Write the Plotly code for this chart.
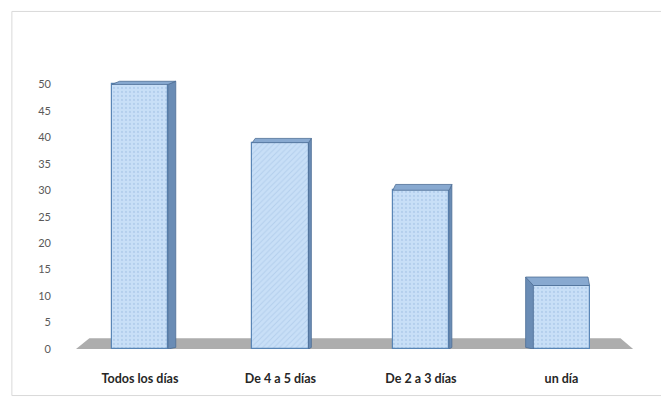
import plotly.graph_objects as go

# ---- data ----
categories = ["Todos los días", "De 4 a 5 días", "De 2 a 3 días", "un día"]
values = [50, 39, 30, 12]
y_ticks = [0, 5, 10, 15, 20, 25, 30, 35, 40, 45, 50]

# ---- style ----
xpos = list(range(len(categories)))
bar_w = 0.40
front_color = "#c8dff7"
edge_color = "#5a86b6"
side_color = "#6a8cb5"
top_color = "#88a9d0"
patterns = [".", "/", ".", "."]
# side depth (x units, sign = which side), top depth (y units)
side_dx = [0.055, 0.02, 0.02, -0.055]
top_dy = [0.6, 0.8, 1.1, 1.6]

fig = go.Figure()

# floor (decorative)
fig.add_shape(type="path",
              path="M -0.455 0 L -0.36 2.05 L 3.42 2.05 L 3.51 0 Z",
              xref="x", yref="y", fillcolor="#adadad", line=dict(width=0),
              layer="below")

# side + top faces derived from the values
for i, v in enumerate(values):
    x0 = xpos[i] - bar_w / 2
    x1 = xpos[i] + bar_w / 2
    dx = side_dx[i]
    dy = top_dy[i]
    edge = x1 if dx > 0 else x0
    sx = [edge, edge + dx, edge + dx, edge, edge]
    sy = [0, 0.3, v + dy, v, 0]
    if dx > 0:
        tx = [x0, x0 + dx, x1 + dx, x1, x0]
    else:
        tx = [x0, x0 + dx, x1 + dx * 0.2, x1, x0]
    ty = [v, v + dy, v + dy, v, v]
    fig.add_trace(go.Scatter(x=sx, y=sy, fill="toself", mode="lines",
                             fillcolor=side_color, line=dict(color="#4e6f96", width=0.8),
                             hoverinfo="skip", showlegend=False))
    fig.add_trace(go.Scatter(x=tx, y=ty, fill="toself", mode="lines",
                             fillcolor=top_color, line=dict(color="#4e6f96", width=0.8),
                             hoverinfo="skip", showlegend=False))

fig.add_trace(go.Bar(
    x=xpos, y=values, width=bar_w,
    marker=dict(color=front_color,
                line=dict(color=edge_color, width=1.2),
                pattern=dict(shape=patterns, fgcolor="#9dbde2", size=4,
                             solidity=0.25, fillmode="overlay")),
    showlegend=False,
))

# outer frame
fig.add_shape(type="rect", xref="paper", yref="paper",
              x0=-0.083, x1=1.038, y0=-0.16, y1=1.16,
              line=dict(color="#d9d9d9", width=1), fillcolor="rgba(0,0,0,0)")

fig.update_layout(
    width=661, height=398,
    margin=dict(l=60, r=21, t=58, b=46),
    paper_bgcolor="white", plot_bgcolor="white",
    font=dict(family="Lato", color="#595959"),
    xaxis=dict(range=[-0.569, 3.559], tickvals=xpos, ticktext=categories,
               showgrid=False, zeroline=False, showline=False, ticks="",
               ticklabelstandoff=20,
               tickfont=dict(size=12.5, color="#262626", weight="bold")),
    yaxis=dict(range=[0, 55], tickvals=y_ticks, showgrid=False,
               zeroline=False, showline=False, ticks="",
               ticklabelstandoff=8,
               tickfont=dict(size=11, color="#595959")),
    bargap=0,
)

fig.write_html("out.html")
